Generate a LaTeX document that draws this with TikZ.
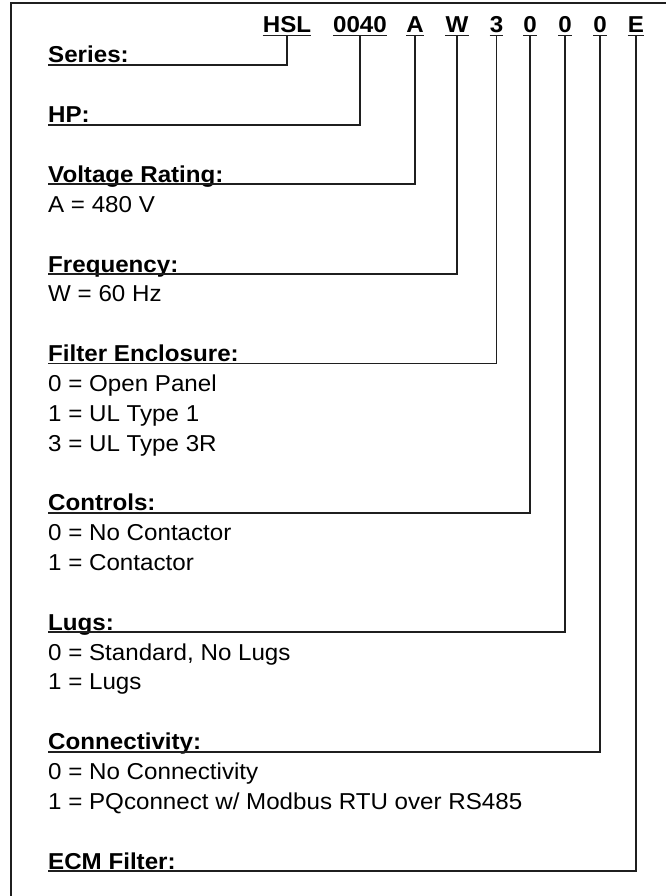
\documentclass[tikz,border=0pt]{standalone}
\usepackage{fontspec}
\setmainfont{Liberation Sans}[FakeStretch=1.05]
\begin{document}
\begin{tikzpicture}[x=1pt,y=-1pt,
  every node/.style={inner sep=0pt},
  code/.style={anchor=base,font=\fontsize{23}{30}\selectfont\bfseries},
  head/.style={anchor=base west,font=\fontsize{23}{30}\selectfont\bfseries},
  entry/.style={anchor=base west,font=\fontsize{23}{30}\selectfont},
  link/.style={line width=1.8pt,color=black!88}]
\useasboundingbox (0,0) rectangle (665,896);
% frame
\draw[link] (11,905) -- (11,3) -- (675,3);
% code letters
\node[code] (cHSL) at (287,33) {HSL};
\node[code] (cHP) at (360,33) {0040};
\node[code] (cV) at (415,33) {A};
\node[code] (cF) at (457,33) {W};
\node[code] (cE) at (496.5,33) {3};
\node[code] (cC) at (530,33) {0};
\node[code] (cL) at (565,33) {0};
\node[code] (cN) at (600,33) {0};
\node[code] (cM) at (636,33) {E};
\foreach \n in {cHSL,cHP,cV,cF,cE,cC,cL,cN,cM}
  \draw[link] ([yshift=-2.5pt]\n.base west) -- ([yshift=-2.5pt]\n.base east);
% headings
\node[head] (hSer) at (48,63) {Series:};
\node[head] (hHP) at (48,122.7) {HP:};
\node[head] (hV) at (48,182.4) {Voltage Rating:};
\node[entry] (eV0) at (48,212.3) {A = 480 V};
\node[head] (hF) at (48,272) {Frequency:};
\node[entry] (eF0) at (48,301.8) {W = 60 Hz};
\node[head] (hE) at (48,361.5) {Filter Enclosure:};
\node[entry] (eE0) at (48,391.4) {0 = Open Panel};
\node[entry] (eE1) at (48,421.2) {1 = UL Type 1};
\node[entry] (eE3) at (48,451) {3 = UL Type 3R};
\node[head] (hC) at (48,510.8) {Controls:};
\node[entry] (eC0) at (48,540.6) {0 = No Contactor};
\node[entry] (eC1) at (48,570.5) {1 = Contactor};
\node[head] (hL) at (48,630.2) {Lugs:};
\node[entry] (eL0) at (48,660) {0 = Standard, No Lugs};
\node[entry] (eL1) at (48,689.9) {1 = Lugs};
\node[head] (hN) at (48,749.6) {Connectivity:};
\node[entry] (eN0) at (48,779.4) {0 = No Connectivity};
\node[entry] (eN1) at (48,809.3) {1 = PQconnect w/ Modbus RTU over RS485};
\node[head] (hM) at (48,869) {ECM Filter:};
% connectors
\foreach \c/\h in {cHSL/hSer,cHP/hHP,cV/hV,cF/hF,cE/hE,cC/hC,cL/hL,cN/hN,cM/hM}
  \draw[link] ([yshift=-2.5pt]\c.base) |- ([yshift=-2pt]\h.base west);
\end{tikzpicture}
\end{document}
